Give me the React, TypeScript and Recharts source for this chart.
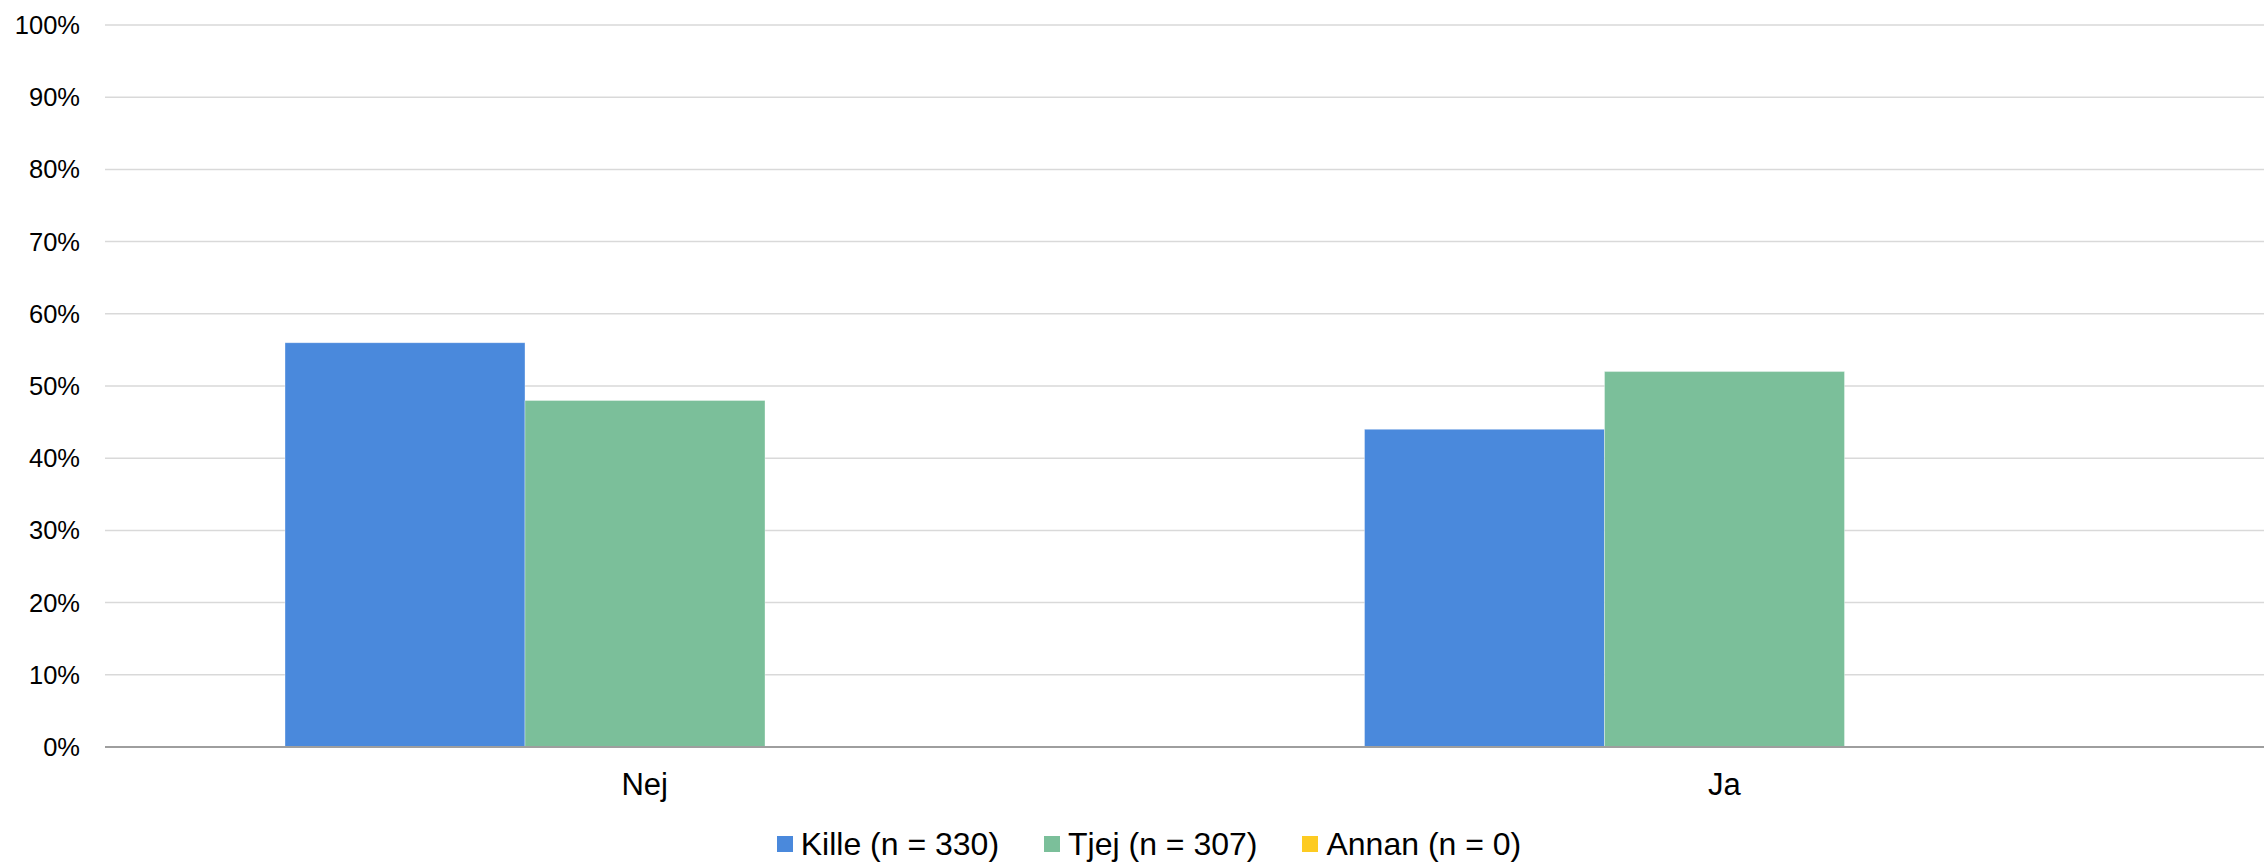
import React from 'react';
import { BarChart, Bar, XAxis, YAxis, CartesianGrid, Legend } from 'recharts';

const categories = ['Nej', 'Ja'];
const kille = [56, 44];
const tjej = [48, 52];
const annan = [0, 0];
const yTicks = [0, 10, 20, 30, 40, 50, 60, 70, 80, 90, 100];

const series = [
  { key: 'kille', label: 'Kille (n = 330)', color: '#4A89DC' },
  { key: 'tjej', label: 'Tjej (n = 307)', color: '#7BBF9A' },
  { key: 'annan', label: 'Annan (n = 0)', color: '#FDCB22' },
];

const chartData = categories.map((name, i) => ({
  name,
  kille: kille[i],
  tjej: tjej[i],
  annan: annan[i],
}));

const FONT = '"Liberation Sans", Arial, sans-serif';

function ChartLegend() {
  return (
    <div
      style={{
        display: 'flex',
        justifyContent: 'center',
        alignItems: 'center',
        height: 40,
        paddingLeft: 34,
        fontFamily: FONT,
        fontSize: 32,
        color: '#000',
        gap: 45,
      }}
    >
      {series.map((s) => (
        <div key={s.key} style={{ display: 'flex', alignItems: 'center' }}>
          <span style={{ width: 16, height: 16, background: s.color, marginRight: 8, display: 'inline-block' }} />
          <span>{s.label}</span>
        </div>
      ))}
    </div>
  );
}

export default function App() {
  return (
    <div style={{ position: 'absolute', left: 0, top: 0, background: '#fff' }}>
      <BarChart
        width={2264}
        height={864}
        data={chartData}
        margin={{ top: 25, right: 0, left: 0, bottom: 17 }}
        barGap={0}
        barSize={240}
      >
        <CartesianGrid vertical={false} stroke="#D9D9D9" strokeWidth={1.5} />
        <XAxis
          dataKey="name"
          height={60}
          tickSize={0}
          tickMargin={26}
          tickLine={false}
          axisLine={{ stroke: '#9E9E9E', strokeWidth: 2 }}
          tick={{ fill: '#000', fontSize: 31, fontFamily: FONT }}
        />
        <YAxis
          width={105}
          domain={[0, 100]}
          ticks={yTicks}
          interval={0}
          tickSize={0}
          tickMargin={25}
          tickLine={false}
          axisLine={false}
          tickFormatter={(v) => `${v}%`}
          tick={{ fill: '#000', fontSize: 25.5, fontFamily: FONT }}
        />
        <Legend verticalAlign="bottom" content={<ChartLegend />} wrapperStyle={{ bottom: 0, left: 0 }} />
        {series.map((s) => (
          <Bar
            key={s.key}
            dataKey={s.key}
            name={s.label}
            fill={s.color}
            stroke="#ffffff"
            strokeOpacity={0.35}
            strokeWidth={1}
            isAnimationActive={false}
          />
        ))}
      </BarChart>
    </div>
  );
}
